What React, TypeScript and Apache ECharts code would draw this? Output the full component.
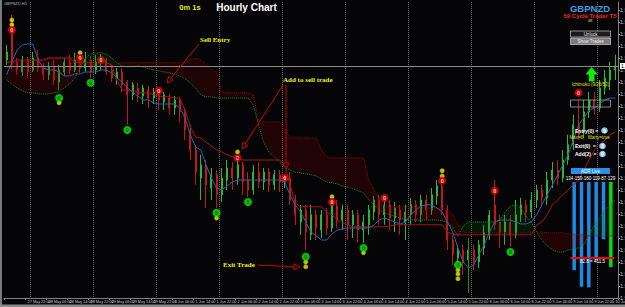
import React, { useEffect, useRef } from 'react';
import * as echarts from 'echarts';

// ---------- categories (2-hour bars, 27 May 14:00 .. 10 Jun 06:00) ----------
const days = ['27 May', '28 May', '29 May', '1 Jun', '2 Jun', '3 Jun', '4 Jun', '5 Jun', '8 Jun', '9 Jun', '10 Jun'];
const categories: string[] = [];
days.forEach((d, di) => {
  const start = di === 0 ? 14 : 0;
  const end = di === days.length - 1 ? 6 : 22;
  for (let h = start; h <= end; h += 2) categories.push(`${d} ${String(h).padStart(2, '0')}:00`);
});
const dayStarts = categories.map((c, i) => (c.endsWith(' 00:00') ? i : -1)).filter((i) => i >= 0);

// ---------- price data ----------
const openP = [
  1.9615, 1.9715, 1.9610, 1.9585, 1.9615, 1.9590, 1.9620, 1.9595, 1.9578, 1.9600,
  1.9560, 1.9585, 1.9610, 1.9590, 1.9610, 1.9595, 1.9615, 1.9590, 1.9608, 1.9615,
  1.9590, 1.9570, 1.9585, 1.9560, 1.9528, 1.9545, 1.9525, 1.9540, 1.9520, 1.9530,
  1.9510, 1.9520, 1.9495, 1.9515, 1.9485, 1.9440, 1.9390, 1.9320, 1.9353, 1.9295,
  1.9328, 1.9278, 1.9315, 1.9345, 1.9320, 1.9353, 1.9315, 1.9290, 1.9335, 1.9310,
  1.9335, 1.9303, 1.9328, 1.9310, 1.9320, 1.9265, 1.9210, 1.9240, 1.9178, 1.9228,
  1.9190, 1.9228, 1.9195, 1.9250, 1.9215, 1.9240, 1.9203, 1.9228, 1.9190, 1.9203,
  1.9235, 1.9265, 1.9228, 1.9253, 1.9220, 1.9240, 1.9210, 1.9228, 1.9253, 1.9228,
  1.9265, 1.9240, 1.9275, 1.9300, 1.9240, 1.9165, 1.9120, 1.9140, 1.9115, 1.9140,
  1.9110, 1.9145, 1.9178, 1.9253, 1.9210, 1.9185, 1.9210, 1.9178, 1.9228, 1.9253,
  1.9235, 1.9265, 1.9290, 1.9270, 1.9315, 1.9340, 1.9320, 1.9365, 1.9403, 1.9453,
  1.9435, 1.9485, 1.9515, 1.9495, 1.9545, 1.9565, 1.9590,
];
const closeP = [
  1.9635, 1.9603, 1.9590, 1.9615, 1.9585, 1.9620, 1.9595, 1.9578, 1.9600, 1.9565,
  1.9590, 1.9610, 1.9590, 1.9615, 1.9595, 1.9615, 1.9585, 1.9610, 1.9620, 1.9585,
  1.9570, 1.9585, 1.9553, 1.9528, 1.9553, 1.9528, 1.9545, 1.9520, 1.9535, 1.9515,
  1.9528, 1.9495, 1.9515, 1.9485, 1.9440, 1.9390, 1.9335, 1.9353, 1.9303, 1.9328,
  1.9278, 1.9320, 1.9345, 1.9320, 1.9353, 1.9310, 1.9290, 1.9335, 1.9310, 1.9335,
  1.9303, 1.9328, 1.9310, 1.9325, 1.9265, 1.9228, 1.9240, 1.9185, 1.9228, 1.9195,
  1.9228, 1.9195, 1.9253, 1.9215, 1.9240, 1.9203, 1.9228, 1.9190, 1.9210, 1.9240,
  1.9265, 1.9228, 1.9253, 1.9220, 1.9245, 1.9215, 1.9235, 1.9253, 1.9228, 1.9265,
  1.9240, 1.9278, 1.9300, 1.9240, 1.9165, 1.9128, 1.9140, 1.9110, 1.9140, 1.9110,
  1.9153, 1.9185, 1.9228, 1.9203, 1.9185, 1.9210, 1.9178, 1.9228, 1.9253, 1.9235,
  1.9265, 1.9290, 1.9270, 1.9315, 1.9340, 1.9320, 1.9365, 1.9403, 1.9453, 1.9428,
  1.9485, 1.9515, 1.9495, 1.9545, 1.9570, 1.9590, 1.9600,
];
const lowP = [
  1.9603, 1.9590, 1.9578, 1.9575, 1.9570, 1.9585, 1.9585, 1.9565, 1.9565, 1.9553,
  1.9540, 1.9575, 1.9578, 1.9585, 1.9583, 1.9585, 1.9570, 1.9580, 1.9590, 1.9578,
  1.9560, 1.9553, 1.9535, 1.9453, 1.9515, 1.9510, 1.9505, 1.9495, 1.9505, 1.9490,
  1.9490, 1.9478, 1.9478, 1.9460, 1.9415, 1.9365, 1.9303, 1.9265, 1.9245, 1.9265,
  1.9245, 1.9260, 1.9290, 1.9290, 1.9303, 1.9278, 1.9273, 1.9278, 1.9295, 1.9290,
  1.9285, 1.9290, 1.9285, 1.9295, 1.9253, 1.9203, 1.9178, 1.9140, 1.9165, 1.9165,
  1.9170, 1.9178, 1.9185, 1.9195, 1.9190, 1.9165, 1.9170, 1.9160, 1.9158, 1.9178,
  1.9215, 1.9203, 1.9203, 1.9190, 1.9185, 1.9178, 1.9165, 1.9203, 1.9210, 1.9210,
  1.9215, 1.9228, 1.9253, 1.9228, 1.9140, 1.9103, 1.9110, 1.9078, 1.9095, 1.9090,
  1.9095, 1.9128, 1.9165, 1.9190, 1.9145, 1.9153, 1.9148, 1.9170, 1.9210, 1.9210,
  1.9220, 1.9245, 1.9253, 1.9253, 1.9295, 1.9303, 1.9310, 1.9353, 1.9390, 1.9415,
  1.9420, 1.9470, 1.9478, 1.9485, 1.9528, 1.9540, 1.9565,
];
const highP = [
  1.9653, 1.9728, 1.9620, 1.9625, 1.9623, 1.9635, 1.9640, 1.9608, 1.9610, 1.9615,
  1.9603, 1.9620, 1.9628, 1.9633, 1.9615, 1.9635, 1.9625, 1.9628, 1.9630, 1.9620,
  1.9603, 1.9595, 1.9595, 1.9565, 1.9560, 1.9558, 1.9553, 1.9550, 1.9545, 1.9535,
  1.9535, 1.9530, 1.9525, 1.9523, 1.9495, 1.9453, 1.9403, 1.9378, 1.9365, 1.9345,
  1.9340, 1.9345, 1.9365, 1.9360, 1.9365, 1.9360, 1.9335, 1.9353, 1.9360, 1.9345,
  1.9345, 1.9340, 1.9340, 1.9328, 1.9335, 1.9278, 1.9253, 1.9253, 1.9253, 1.9240,
  1.9240, 1.9245, 1.9265, 1.9265, 1.9253, 1.9253, 1.9240, 1.9240, 1.9228, 1.9253,
  1.9275, 1.9278, 1.9265, 1.9265, 1.9260, 1.9253, 1.9253, 1.9270, 1.9265, 1.9278,
  1.9278, 1.9295, 1.9315, 1.9310, 1.9253, 1.9178, 1.9153, 1.9153, 1.9165, 1.9153,
  1.9165, 1.9203, 1.9240, 1.9315, 1.9228, 1.9228, 1.9228, 1.9265, 1.9270, 1.9265,
  1.9285, 1.9303, 1.9303, 1.9335, 1.9360, 1.9365, 1.9390, 1.9428, 1.9478, 1.9515,
  1.9515, 1.9535, 1.9535, 1.9565, 1.9590, 1.9610, 1.9628,
];

// Ichimoku lines
const tenkan = [
  1.9578, 1.9610, 1.9640, 1.9653, 1.9655, 1.9655, 1.9615, 1.9595, 1.9590, 1.9590,
  1.9585, 1.9575, 1.9575, 1.9580, 1.9580, 1.9585, 1.9585, 1.9585, 1.9590, 1.9590,
  1.9583, 1.9570, 1.9560, 1.9545, 1.9535, 1.9525, 1.9515, 1.9515, 1.9508, 1.9505,
  1.9505, 1.9505, 1.9505, 1.9495, 1.9470, 1.9428, 1.9398, 1.9390, 1.9353, 1.9320,
  1.9295, 1.9290, 1.9300, 1.9310, 1.9315, 1.9315, 1.9315, 1.9315, 1.9315, 1.9315,
  1.9315, 1.9315, 1.9315, 1.9310, 1.9278, 1.9253, 1.9235, 1.9210, 1.9185, 1.9175,
  1.9165, 1.9165, 1.9180, 1.9190, 1.9193, 1.9195, 1.9195, 1.9195, 1.9195, 1.9195,
  1.9203, 1.9215, 1.9220, 1.9215, 1.9210, 1.9205, 1.9210, 1.9228, 1.9240, 1.9250,
  1.9253, 1.9253, 1.9245, 1.9235, 1.9210, 1.9185, 1.9145, 1.9110, 1.9095, 1.9103,
  1.9128, 1.9153, 1.9185, 1.9210, 1.9215, 1.9215, 1.9215, 1.9210, 1.9205, 1.9205,
  1.9210, 1.9228, 1.9253, 1.9278, 1.9303, 1.9328, 1.9353, 1.9378, 1.9415, 1.9453,
  1.9470, 1.9490, 1.9495, 1.9505, 1.9515, 1.9520, 1.9520,
];
const kijun = [
  1.9610, 1.9610, 1.9615, 1.9615, 1.9615, 1.9615, 1.9615, 1.9615, 1.9620, 1.9620,
  1.9620, 1.9620, 1.9620, 1.9610, 1.9608, 1.9608, 1.9608, 1.9608, 1.9608, 1.9608,
  1.9603, 1.9565, 1.9540, 1.9540, 1.9538, 1.9535, 1.9533, 1.9533, 1.9528, 1.9525,
  1.9523, 1.9523, 1.9520, 1.9520, 1.9490, 1.9448, 1.9423, 1.9420, 1.9410, 1.9400,
  1.9390, 1.9385, 1.9378, 1.9373, 1.9370, 1.9365, 1.9365, 1.9365, 1.9365, 1.9365,
  1.9365, 1.9365, 1.9365, 1.9353, 1.9303, 1.9258, 1.9248, 1.9248, 1.9248, 1.9248,
  1.9248, 1.9235, 1.9228, 1.9215, 1.9208, 1.9203, 1.9198, 1.9198, 1.9198, 1.9198,
  1.9198, 1.9198, 1.9198, 1.9200, 1.9203, 1.9203, 1.9203, 1.9203, 1.9203, 1.9203,
  1.9203, 1.9203, 1.9203, 1.9203, 1.9185, 1.9180, 1.9178, 1.9178, 1.9178, 1.9178,
  1.9178, 1.9178, 1.9178, 1.9178, 1.9178, 1.9178, 1.9178, 1.9178, 1.9178, 1.9178,
  1.9178, 1.9203, 1.9210, 1.9228, 1.9253, 1.9265, 1.9278, 1.9290, 1.9303, 1.9315,
  1.9340, 1.9365, 1.9390, 1.9403, 1.9415, 1.9428, 1.9435,
];
const senkouA = [
  1.9565, 1.9555, 1.9545, 1.9538, 1.9533, 1.9533, 1.9530, 1.9530, 1.9530, 1.9533,
  1.9535, 1.9545, 1.9555, 1.9570, 1.9595, 1.9620, 1.9630, 1.9633, 1.9633, 1.9630,
  1.9620, 1.9608, 1.9600, 1.9598, 1.9598, 1.9600, 1.9598, 1.9593, 1.9590, 1.9588,
  1.9585, 1.9583, 1.9580, 1.9575, 1.9568, 1.9558, 1.9545, 1.9528, 1.9523, 1.9523,
  1.9520, 1.9520, 1.9520, 1.9520, 1.9520, 1.9520, 1.9520, 1.9503, 1.9453, 1.9408,
  1.9385, 1.9373, 1.9360, 1.9348, 1.9340, 1.9335, 1.9333, 1.9330, 1.9328, 1.9325,
  1.9318, 1.9310, 1.9308, 1.9305, 1.9300, 1.9298, 1.9293, 1.9288, 1.9283, 1.9265,
  1.9253, 1.9240, 1.9233, 1.9228, 1.9225, 1.9220, 1.9218, 1.9215, 1.9215, 1.9215,
  1.9215, 1.9215, 1.9215, 1.9213, 1.9210, 1.9195, 1.9175, 1.9200, 1.9210, 1.9210,
  1.9210, 1.9210, 1.9210, 1.9210, 1.9215, 1.9235, 1.9250, 1.9253, 1.9245, 1.9225,
  1.9210, 1.9185, 1.9165, 1.9150, 1.9140, 1.9135, 1.9135, 1.9140, 1.9143, 1.9145,
  1.9153, 1.9178, 1.9203, 1.9220, 1.9240, 1.9253, 1.9265,
];
const senkouB = [
  1.9610, 1.9610, 1.9610, 1.9610, 1.9610, 1.9615, 1.9615, 1.9615, 1.9620, 1.9620,
  1.9620, 1.9620, 1.9620, 1.9620, 1.9615, 1.9605, 1.9600, 1.9600, 1.9600, 1.9600,
  1.9600, 1.9605, 1.9608, 1.9608, 1.9608, 1.9608, 1.9608, 1.9608, 1.9608, 1.9608,
  1.9608, 1.9608, 1.9608, 1.9608, 1.9608, 1.9615, 1.9620, 1.9615, 1.9603, 1.9590,
  1.9585, 1.9535, 1.9533, 1.9533, 1.9533, 1.9533, 1.9533, 1.9528, 1.9465, 1.9460,
  1.9460, 1.9460, 1.9460, 1.9440, 1.9420, 1.9420, 1.9420, 1.9420, 1.9420, 1.9420,
  1.9390, 1.9373, 1.9370, 1.9370, 1.9370, 1.9370, 1.9370, 1.9370, 1.9370, 1.9315,
  1.9290, 1.9265, 1.9248, 1.9248, 1.9248, 1.9248, 1.9248, 1.9248, 1.9248, 1.9245,
  1.9245, 1.9245, 1.9245, 1.9245, 1.9240, 1.9228, 1.9203, 1.9185, 1.9183, 1.9183,
  1.9183, 1.9183, 1.9183, 1.9183, 1.9183, 1.9183, 1.9183, 1.9183, 1.9183, 1.9183,
  1.9183, 1.9185, 1.9185, 1.9183, 1.9183, 1.9183, 1.9183, 1.9180, 1.9180, 1.9178,
  1.9178, 1.9175, 1.9175, 1.9175, 1.9175, 1.9175, 1.9175,
];

// signals: [bar index, price]
const sellSignals = [
  [1, 1.969], [14, 1.962], [18, 1.9615], [29, 1.9538], [44, 1.937], [53, 1.932],
  [62, 1.926], [72, 1.927], [83, 1.9313], [93, 1.9288], [109, 1.9533],
];
const buySignals = [
  [10, 1.952], [16, 1.9558], [23, 1.944], [40, 1.9233], [46, 1.926], [57, 1.9123],
  [68, 1.9145], [86, 1.9103], [96, 1.9135],
];
const yellowDots = [
  [1, 1.9715], [1, 1.9703], [14, 1.9633], [10, 1.9508], [40, 1.922], [44, 1.9385],
  [57, 1.911], [57, 1.9098], [62, 1.9273], [68, 1.9133], [83, 1.9338], [83, 1.9325],
  [86, 1.909], [86, 1.908], [86, 1.9068],
];
const dayTags = [
  { name: 'Thurs', value: [5, 1.9573] },
  { name: 'Fri', value: [17, 1.9525] },
  { name: 'Mon', value: [29, 1.9475] },
  { name: 'Tues', value: [41, 1.9215] },
  { name: 'Wed', value: [53, 1.9273] },
  { name: 'Thurs', value: [65, 1.9163] },
  { name: 'Fri', value: [77, 1.9168] },
  { name: 'Tues', value: [101, 1.9235] },
  { name: 'Wed', value: [113, 1.9458] },
];
const monLine = { index: 88, from: 1.917, to: 1.9033 };

// ADR panel
const adrValues = [134, 159, 160, 119, 87, 129];
const adrNames = ['D5', 'D4', 'D3', 'D2', 'D1', 'Today'];
const adrLevel = 115;

const FONT = '"Liberation Sans", Arial, sans-serif';
const SERIF = '"Liberation Serif", "Times New Roman", serif';

function T(x: number, y: number, text: string, size: number, color: string, bold = false, align = 'center', family = FONT) {
  return {
    type: 'text', x, y, z: 100, silent: true,
    style: {
      text, fill: color, font: `${bold ? 'bold ' : ''}${size}px ${family}`,
      align, verticalAlign: 'middle', textAlign: align, textVerticalAlign: 'middle',
    },
  };
}
function arrow(x1: number, y1: number, x2: number, y2: number, color = '#d00000') {
  const dx = x2 - x1, dy = y2 - y1, L = Math.hypot(dx, dy);
  const ux = dx / L, uy = dy / L, len = 6, w = 3;
  const bx = x2 - ux * len, by = y2 - uy * len;
  return [
    { type: 'line', z: 100, silent: true, shape: { x1, y1, x2: bx, y2: by }, style: { stroke: color, lineWidth: 1 } },
    {
      type: 'polygon', z: 100, silent: true,
      shape: { points: [[x2, y2], [bx - uy * w, by + ux * w], [bx + uy * w, by - ux * w]] },
      style: { stroke: color, fill: '#000000', lineWidth: 1 },
    },
  ];
}
function badge(x: number, y: number, digit: string) {
  return [
    { type: 'circle', z: 100, silent: true, shape: { cx: x, cy: y, r: 3.3 }, style: { fill: '#8cc6ee' } },
    T(x, y + 0.3, digit, 5, '#ffffff', true),
  ];
}

export default function App() {
  const ref = useRef<HTMLDivElement>(null);
  useEffect(() => {
    document.body.style.margin = '0';
    const chart = echarts.init(ref.current!, null, { renderer: 'svg' });
    const candles = openP.map((o, i) => [o, closeP[i], lowP[i], highP[i]]);
    const lower = senkouA.map((a, i) => Math.min(a, senkouB[i]));
    const redBand = senkouA.map((a, i) => (senkouB[i] > a ? +(senkouB[i] - a).toFixed(5) : 0));
    const greenBand = senkouA.map((a, i) => (a > senkouB[i] ? +(a - senkouB[i]).toFixed(5) : 0));
    const lastClose = closeP[closeP.length - 1];

    const graphic: any[] = [
      { type: 'rect', z: 100, silent: true, shape: { x: 0, y: 0, width: 2, height: 307 }, style: { fill: '#7a7a7a' } },
      { type: 'rect', z: 100, silent: true, shape: { x: 0, y: 304.5, width: 625, height: 2.5 }, style: { fill: '#8a8a8a' } },
      T(4, 3.5, 'GBPNZD,H1', 4, '#b8b8b8', false, 'left'),
      T(190, 7, '0m 1s', 7.5, '#e8e800', true),
      T(246.5, 7.5, 'Hourly Chart', 10, '#ffffff', true),
      // annotations
      T(200, 39.5, 'Sell Entry', 7, '#f0f000', true, 'left', SERIF),
      ...arrow(199, 44, 167, 83),
      T(283, 80, 'Add to sell trade', 7, '#f0f000', true, 'left', SERIF),
      ...arrow(283, 85, 242, 149),
      ...arrow(286, 85, 286, 169),
      T(223, 265, 'Exit Trade', 7, '#f0f000', true, 'left', SERIF),
      ...arrow(258, 265, 300, 267),
      // right panel
      T(590, 8, 'GBPNZD', 9.5, '#3c9ee6', true),
      T(590, 15.5, '59 Cycle Trader T5', 6, '#ff2020', true),
      T(590, 20.5, '48', 4, '#e0e000'),
      { type: 'rect', z: 100, silent: true, shape: { x: 570.5, y: 31, width: 40, height: 6 }, style: { fill: '#1c1c1c', stroke: '#b0b0b0', lineWidth: 0.8 } },
      T(590.5, 34, 'Unlock', 4.5, '#e0e0e0'),
      { type: 'rect', z: 100, silent: true, shape: { x: 570.5, y: 38, width: 40, height: 6.5 }, style: { fill: '#7c7c7c', stroke: '#c0c0c0', lineWidth: 0.8 } },
      T(590.5, 41.3, 'Show Trades', 4.5, '#f0f0f0'),
      {
        type: 'polygon', z: 100, silent: true,
        shape: { points: [[591.5, 67], [585.5, 74.5], [589, 74.5], [589, 81.5], [594.5, 81.5], [594.5, 74.5], [598, 74.5]] },
        style: { fill: '#00f000' },
      },
      T(590.5, 84, 'Ichimoku (9/26/52)', 4.5, '#e0e000'),
      { type: 'rect', z: 100, silent: true, shape: { x: 570.5, y: 100, width: 40, height: 7 }, style: { fill: 'none', stroke: '#a0a0a0', lineWidth: 0.8 } },
      { type: 'line', z: 100, silent: true, shape: { x1: 590, y1: 100, x2: 590, y2: 107 }, style: { stroke: '#a0a0a0', lineWidth: 0.8 } },
      T(575, 130.5, 'Entry(0) =', 5, '#ffffff', true, 'left'),
      ...badge(604.5, 130.5, '0'),
      T(589.5, 137.5, 'Max=6,   Marty=true', 4.5, '#e0e000'),
      T(575, 146, 'Exit(0)  =', 5, '#ffffff', true, 'left'),
      ...badge(602.5, 146, '3'),
      T(575, 154, 'Add(2)  =', 5, '#ffffff', true, 'left'),
      ...badge(602.5, 154, '0'),
      { type: 'rect', z: 100, silent: true, shape: { x: 571, y: 168, width: 39, height: 6 }, style: { fill: '#2b8fe8' } },
      T(590.5, 171, 'ADR Live', 4.5, '#ffffff'),
      T(590.5, 178.5, adrValues.join('·'), 4.5, '#ffffff'),
    ];

    chart.setOption({
      animation: false,
      backgroundColor: '#050507',
      textStyle: { fontFamily: FONT },
      graphic,
      grid: [
        { left: 4, right: 7, top: 2, bottom: 9, outerBoundsMode: 'none', containLabel: false },
        { left: 570.5, width: 44, top: 182, height: 112, outerBoundsMode: 'none', containLabel: false },
      ],
      xAxis: [
        {
          type: 'category', gridIndex: 0, data: categories, boundaryGap: true,
          axisLine: { lineStyle: { color: '#808080' } },
          axisTick: { show: true, interval: 3, length: 2, lineStyle: { color: '#808080' } },
          axisLabel: {
            interval: 3, fontSize: 3.8, color: '#c8c8c8', margin: 2, align: 'left', hideOverlap: false,
            formatter: (v: string, i: number) => (i === 0 ? '27 May 2020' : v),
          },
          splitLine: {
            show: true,
            interval: (i: number) => dayStarts.includes(i),
            lineStyle: { color: '#5e5e5e', type: 'dotted', width: 1 },
          },
        },
        { type: 'category', gridIndex: 1, data: adrNames, show: false },
      ],
      yAxis: [
        {
          type: 'value', gridIndex: 0, position: 'right', min: 1.902, max: 1.976, interval: 0.003,
          axisLine: { show: true, lineStyle: { color: '#808080' } },
          axisTick: { show: true, length: 2, lineStyle: { color: '#808080' } },
          axisLabel: { fontSize: 5.5, color: '#c0c0c0', margin: 2, showMaxLabel: false, formatter: (v: number) => v.toFixed(5) },
          splitLine: { show: false },
        },
        { type: 'value', gridIndex: 1, inverse: true, min: 0, max: 170, show: false },
      ],
      series: [
        { type: 'line', name: 'cloudBase', data: lower, stack: 'cloud', symbol: 'none', lineStyle: { opacity: 0 }, silent: true },
        { type: 'line', name: 'cloudBear', data: redBand, stack: 'cloud', symbol: 'none', lineStyle: { opacity: 0 }, areaStyle: { color: 'rgba(130,0,0,0.32)' }, silent: true },
        { type: 'line', name: 'cloudBull', data: greenBand, stack: 'cloud', symbol: 'none', lineStyle: { opacity: 0 }, areaStyle: { color: 'rgba(0,110,0,0.25)' }, silent: true },
        { type: 'line', name: 'Senkou A', data: senkouA, symbol: 'none', lineStyle: { color: '#1c8c1c', type: 'dotted', width: 1 }, silent: true },
        { type: 'line', name: 'Senkou B', data: senkouB, symbol: 'none', lineStyle: { color: '#8a0c0c', type: 'dotted', width: 1 }, silent: true },
        { type: 'line', name: 'Kijun', data: kijun, symbol: 'none', lineStyle: { color: '#a81616', width: 1 }, silent: true },
        { type: 'line', name: 'Tenkan', data: tenkan, symbol: 'none', lineStyle: { color: '#2a62ae', width: 1 }, silent: true },
        {
          type: 'candlestick', name: 'GBPNZD', data: candles, barWidth: 1.5, silent: true,
          itemStyle: { color: '#1e9e1e', color0: '#b01010', borderColor: '#2cb82c', borderColor0: '#c01818', borderWidth: 1 },
          markLine: {
            silent: true, symbol: 'none', animation: false,
            data: [
              {
                yAxis: lastClose,
                lineStyle: { color: '#8a8a8a', width: 1, type: 'solid' },
                label: { show: true, position: 'end', formatter: lastClose.toFixed(5), backgroundColor: '#ffffff', color: '#000000', fontSize: 5.5, padding: [0, 1], distance: 2 },
              },
              [
                { coord: [categories[monLine.index], monLine.from], lineStyle: { color: '#00a000', width: 1, type: 'solid' }, label: { show: false } },
                {
                  coord: [categories[monLine.index], monLine.to], lineStyle: { color: '#00a000', width: 1, type: 'solid' },
                  label: { show: true, position: 'end', formatter: 'Mon', backgroundColor: '#d8d800', color: '#000000', fontSize: 4, padding: [0, 1], distance: 1 },
                },
              ],
            ],
          },
        },
        {
          type: 'scatter', name: 'days', data: dayTags, symbol: 'circle', symbolSize: 1, itemStyle: { opacity: 0 }, silent: true,
          label: { show: true, formatter: '{b}', position: 'inside', offset: [-2.6, 0], color: '#d0c800', fontSize: 5 },
        },
        {
          type: 'scatter', name: 'dots', data: yellowDots, symbol: 'circle', symbolSize: 4.5, silent: true,
          itemStyle: { color: '#f0f000', borderColor: '#8a8a00', borderWidth: 0.5 },
        },
        {
          type: 'scatter', name: 'sell', data: sellSignals, symbol: 'circle', symbolSize: 8, silent: true,
          itemStyle: { color: '#ee0000' },
          label: { show: true, formatter: '0', position: 'inside', color: '#ffffff', fontSize: 5.5, fontWeight: 'bold' },
        },
        {
          type: 'scatter', name: 'buy', data: buySignals, symbol: 'circle', symbolSize: 8, silent: true,
          itemStyle: { color: '#00f000' },
          label: { show: true, formatter: '0', position: 'inside', color: '#005000', fontSize: 5.5, fontWeight: 'bold' },
        },
        {
          type: 'bar', name: 'ADR', xAxisIndex: 1, yAxisIndex: 1, barWidth: 3.5, silent: true,
          data: adrValues.map((v, i) => ({ value: v, itemStyle: { color: i === adrValues.length - 1 ? '#00e000' : '#1e8ae6' } })),
          markLine: {
            silent: true, symbol: 'none',
            data: [{ yAxis: adrLevel }],
            lineStyle: { color: '#ff0000', width: 2, type: 'solid' },
            label: { show: true, position: 'insideMiddleBottom', formatter: '82.8 = 411.5', color: '#ffffff', fontSize: 4.5, distance: 1 },
          },
        },
      ],
    });
    return () => chart.dispose();
  }, []);
  return <div ref={ref} style={{ position: 'absolute', left: 0, top: 0, width: 625, height: 307 }} />;
}
